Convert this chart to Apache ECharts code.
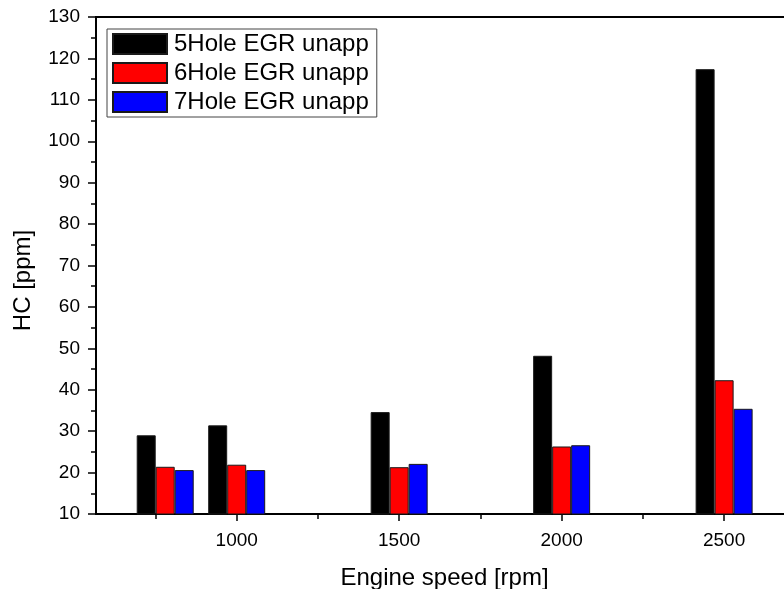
<!DOCTYPE html>
<html>
<head>
<meta charset="utf-8">
<title>HC vs Engine speed</title>
<script src="https://cdn.jsdelivr.net/npm/echarts@6/dist/echarts.min.js"></script>
<style>
  html, body { margin: 0; padding: 0; background: #fff; }
  #chart { width: 784px; height: 589px; }
</style>
</head>
<body>
<div id="chart"></div>
<script>
// Engine speeds (rpm) and HC emissions (ppm) per injector configuration
const speeds = [780, 1000, 1500, 2000, 2500];
const hc5Hole = [29.0, 31.4, 34.6, 48.2, 117.4];
const hc6Hole = [21.4, 21.9, 21.3, 26.3, 42.3];
const hc7Hole = [20.6, 20.6, 22.1, 26.6, 35.4];
const seriesNames = ['5Hole EGR unapp', '6Hole EGR unapp', '7Hole EGR unapp'];
const xMajorTicks = [1000, 1500, 2000, 2500];
const xMinorTicks = [750, 1250, 1750, 2250];

const FONT = 'Liberation Sans, Arial, sans-serif';

function pairs(values) {
  return speeds.map((s, i) => [s, values[i]]);
}

function barSeries(name, values, color) {
  return {
    name: name,
    type: 'bar',
    xAxisIndex: 0,
    yAxisIndex: 0,
    barWidth: 19,
    barGap: '0%',
    data: pairs(values),
    itemStyle: { color: color, borderColor: '#1a1a1a', borderWidth: 1 }
  };
}

const chart = echarts.init(document.getElementById('chart'), null, { renderer: 'canvas' });

const xRange = { min: 567, max: 2712 };

chart.setOption({
  animation: false,
  backgroundColor: '#fff',
  grid: {
    left: 96, top: 17, right: -9, bottom: 75,
    outerBoundsMode: 'none',
    containLabel: false,
    show: true, borderColor: '#000', borderWidth: 2, backgroundColor: 'transparent'
  },
  legend: {
    orient: 'vertical',
    left: 107, top: 29,
    itemWidth: 54, itemHeight: 20, itemGap: 5,
    padding: [3, 8, 3, 5],
    borderColor: '#444', borderWidth: 1,
    selectedMode: false,
    icon: 'rect',
    textStyle: { fontFamily: FONT, fontSize: 24, color: '#000', padding: [0, 0, 0, 2] },
    data: seriesNames
  },
  xAxis: [
    {
      type: 'value',
      position: 'bottom',
      min: xRange.min, max: xRange.max,
      name: 'Engine speed [rpm]',
      nameLocation: 'middle',
      nameGap: 52,
      nameTextStyle: { fontFamily: FONT, fontSize: 24, color: '#000' },
      axisLine: { show: true, lineStyle: { color: '#000', width: 2 } },
      axisTick: { show: true, customValues: xMajorTicks, length: 7, lineStyle: { color: '#000', width: 1.5 } },
      axisLabel: {
        customValues: xMajorTicks, margin: 17, fontFamily: FONT, fontSize: 19, color: '#000',
        formatter: (v) => String(v)
      },
      splitLine: { show: false }
    },
    {
      type: 'value',
      position: 'bottom',
      min: xRange.min, max: xRange.max,
      axisLine: { show: false },
      axisTick: { show: true, customValues: xMinorTicks, length: 5, lineStyle: { color: '#000', width: 1.5 } },
      axisLabel: { show: false },
      splitLine: { show: false }
    }
  ],
  yAxis: {
    type: 'value',
    min: 10, max: 130, interval: 10,
    name: 'HC [ppm]',
    nameLocation: 'middle',
    nameGap: 61,
    nameTextStyle: { fontFamily: FONT, fontSize: 24, color: '#000', padding: [0, 30, 0, 0] },
    axisLine: { show: true, lineStyle: { color: '#000', width: 2 } },
    axisTick: { show: true, length: 8, lineStyle: { color: '#000', width: 1.5 } },
    minorTick: { show: true, splitNumber: 2, length: 5, lineStyle: { color: '#000', width: 1.5 } },
    axisLabel: { margin: 16, fontFamily: FONT, fontSize: 19, color: '#000' },
    splitLine: { show: false },
    minorSplitLine: { show: false }
  },
  series: [
    barSeries(seriesNames[0], hc5Hole, '#000000'),
    barSeries(seriesNames[1], hc6Hole, '#ff0000'),
    barSeries(seriesNames[2], hc7Hole, '#0000ff')
  ]
});
</script>
</body>
</html>
